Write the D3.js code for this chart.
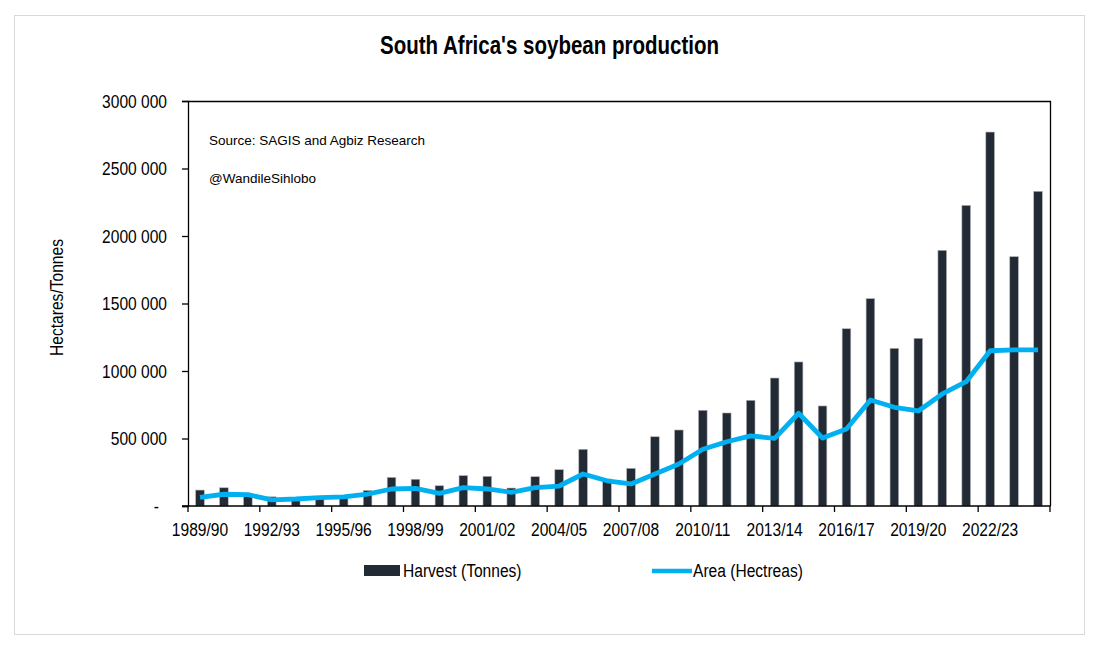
<!DOCTYPE html>
<html>
<head>
<meta charset="utf-8">
<script src="https://cdn.jsdelivr.net/npm/d3@7"></script>
<style>
  html, body { margin: 0; padding: 0; background: #fff; }
  svg { display: block; }
</style>
</head>
<body>
<svg id="chart" width="1097" height="652"></svg>
<script>
// ---- Data ----
const seasons = ["1989/90","1990/91","1991/92","1992/93","1993/94","1994/95","1995/96","1996/97","1997/98","1998/99",
  "1999/00","2000/01","2001/02","2002/03","2003/04","2004/05","2005/06","2006/07","2007/08","2008/09",
  "2009/10","2010/11","2011/12","2012/13","2013/14","2014/15","2015/16","2016/17","2017/18","2018/19",
  "2019/20","2020/21","2021/22","2022/23","2023/24","2024/25"];
const harvest = [118000,135000,75000,68000,52000,55000,58000,115000,212000,198000,
  150000,225000,220000,133000,217000,269000,420000,200000,279000,513000,
  563000,709000,689000,783000,948000,1067000,741000,1313000,1536000,1168000,
  1242000,1894000,2227000,2770000,1847000,2331000];
const area = [64000,87000,84000,46000,52000,62000,68000,88000,126000,131000,
  94000,136000,126000,101000,136000,148000,237000,187000,163000,237000,
  311000,420000,476000,519000,501000,687000,504000,570000,785000,731000,
  704000,830000,921000,1150000,1156000,1156000];
const yTicks = [0,500000,1000000,1500000,2000000,2500000,3000000];
const title = "South Africa's soybean production";
const seriesNames = ["Harvest (Tonnes)", "Area (Hectreas)"];
const notes = ["Source: SAGIS and Agbiz Research", "@WandileSihlobo"];
const yTitle = "Hectares/Tonnes";

// ---- font detection ----
function hasFont(name) {
  const c = document.createElement("canvas").getContext("2d");
  const s = "Hectares/Tonnes 1989/90";
  c.font = "40px monospace"; const a = c.measureText(s).width;
  c.font = "40px '" + name + "', monospace"; const b = c.measureText(s).width;
  c.font = "40px serif"; const a2 = c.measureText(s).width;
  c.font = "40px '" + name + "', serif"; const b2 = c.measureText(s).width;
  return a !== b || a2 !== b2;
}
const narrowOK = hasFont("Liberation Sans Narrow");
const NF = narrowOK ? "'Liberation Sans Narrow', 'Arial Narrow', sans-serif" : "'Liberation Sans', Arial, sans-serif";
const sx = narrowOK ? 1 : 0.82;

const svg = d3.select("#chart");
const m = { left: 188, right: 1050, top: 101, bottom: 506 };

function ntext(g, x, y, str, opts = {}) {
  return g.append("text")
    .attr("transform", `translate(${x},${y})` + (opts.rotate ? ` rotate(${opts.rotate})` : "") + ` scale(${sx},1)`)
    .attr("font-family", NF)
    .attr("font-size", opts.size || 19)
    .attr("font-weight", opts.weight || "normal")
    .attr("text-anchor", opts.anchor || "start")
    .attr("fill", "#000")
    .text(str);
}

// outer border
svg.append("rect").attr("x", 14.5).attr("y", 15.5).attr("width", 1070).attr("height", 619)
  .attr("fill", "#fff").attr("stroke", "#d9d9d9").attr("stroke-width", 1);

const x = d3.scaleBand().domain(seasons).range([m.left, m.right]).paddingInner(0).paddingOuter(0);
const y = d3.scaleLinear().domain([0, 3000000]).range([m.bottom, m.top]);
const bw = x.bandwidth() * 0.36;

// bars
svg.append("g").selectAll("rect").data(harvest).join("rect")
  .attr("x", (d, i) => x(seasons[i]) + x.bandwidth() / 2 - bw / 2)
  .attr("y", d => y(d))
  .attr("width", bw)
  .attr("height", d => y(0) - y(d))
  .attr("fill", "#222a35")
  .attr("stroke", "#b3b3b3")
  .attr("stroke-width", 0.6);

// line
const line = d3.line()
  .x((d, i) => x(seasons[i]) + x.bandwidth() / 2)
  .y(d => y(d));
svg.append("path").datum(area)
  .attr("d", line)
  .attr("fill", "none")
  .attr("stroke", "#00b0f0")
  .attr("stroke-width", 4.8)
  .attr("stroke-linejoin", "round");

// plot frame (top and right)
svg.append("path")
  .attr("d", `M${m.left},${m.top + 0.5}H${m.right + 0.5}V${m.bottom}`)
  .attr("fill", "none").attr("stroke", "#000").attr("stroke-width", 1.3);

// y axis
const yAxis = d3.axisLeft(y).tickValues(yTicks).tickSize(6).tickFormat("");
const ya = svg.append("g").attr("transform", `translate(${m.left},0)`).call(yAxis);
ya.select(".domain").attr("stroke", "#000").attr("stroke-width", 1.3);
ya.selectAll(".tick line").attr("stroke", "#000").attr("stroke-width", 1.3);
const yl = svg.append("g");
yTicks.forEach(v => {
  if (v === 0) {
    ntext(yl, 159, y(v) + 7, "-", { anchor: "end" });
  } else {
    const s = d3.format(",")(v).replace(/,(\d{3})$/, " $1").replace(/,/g, "");
    ntext(yl, 167, y(v) + 6.5, s, { anchor: "end" });
  }
});

// x axis
const xTickVals = seasons.filter((d, i) => i % 3 === 0);
const xa = svg.append("g").attr("transform", `translate(0,${m.bottom})`);
const bounds = d3.range(0, seasons.length + 1, 3).map(i => m.left + i * x.step());
xa.append("line").attr("x1", m.left - 6).attr("x2", m.right + 0.5).attr("y1", 0).attr("y2", 0)
  .attr("stroke", "#000").attr("stroke-width", 1.3);
xa.selectAll("line.tk").data(bounds).join("line").attr("class", "tk")
  .attr("x1", d => d).attr("x2", d => d).attr("y1", 0).attr("y2", 6)
  .attr("stroke", "#000").attr("stroke-width", 1.3);
xTickVals.forEach(s => {
  ntext(xa, x(s) + x.bandwidth() / 2, 30, s, { anchor: "middle" });
});

// y title
ntext(svg, 63, (m.top + m.bottom) / 2 - 6, yTitle, { anchor: "middle", rotate: -90 });

// title
ntext(svg, 549.5, 54, title, { anchor: "middle", size: 25, weight: "bold" });

// notes
svg.append("text").attr("x", 209).attr("y", 145).attr("font-family", "'Liberation Sans', Arial, sans-serif")
  .attr("font-size", 13.5).attr("fill", "#000").text(notes[0]);
svg.append("text").attr("x", 209).attr("y", 183).attr("font-family", "'Liberation Sans', Arial, sans-serif")
  .attr("font-size", 13.5).attr("fill", "#000").text(notes[1]);

// legend
const lg = svg.append("g");
lg.append("rect").attr("x", 364).attr("y", 565).attr("width", 36).attr("height", 11).attr("fill", "#222a35");
ntext(lg, 403, 577, seriesNames[0]);
lg.append("line").attr("x1", 652).attr("x2", 692).attr("y1", 571).attr("y2", 571)
  .attr("stroke", "#00b0f0").attr("stroke-width", 4.5);
ntext(lg, 693, 577, seriesNames[1]);
</script>
</body>
</html>
